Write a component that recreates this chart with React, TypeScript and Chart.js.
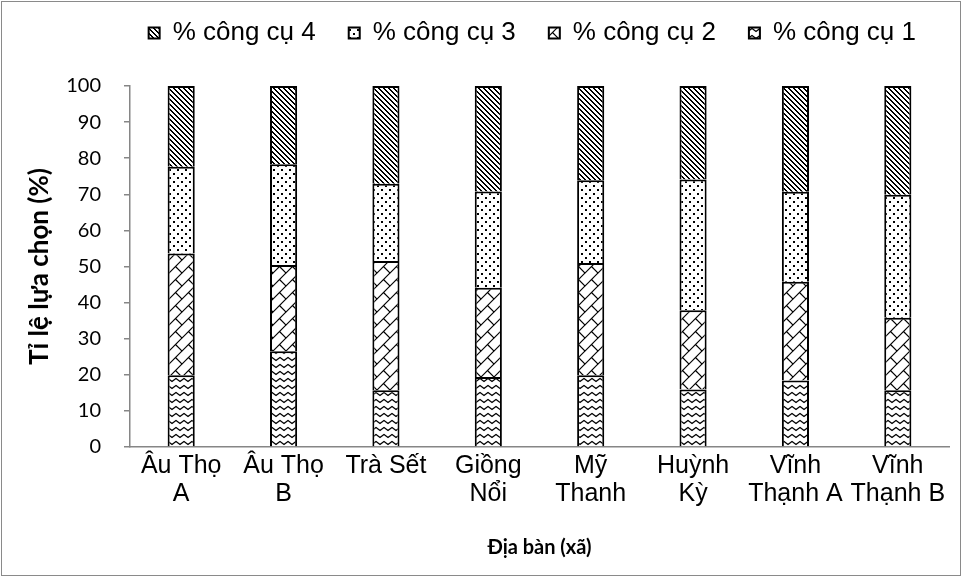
import React, { useEffect, useRef } from 'react';
import { Chart, registerables } from 'chart.js';

Chart.register(...registerables);

const categories: string[][] = [
  ['Âu Thọ', 'A'],
  ['Âu Thọ', 'B'],
  ['Trà Sết'],
  ['Giồng', 'Nổi'],
  ['Mỹ', 'Thanh'],
  ['Huỳnh', 'Kỳ'],
  ['Vĩnh', 'Thạnh A'],
  ['Vĩnh', 'Thạnh B'],
];

const tool1 = [19.9, 26.5, 15.7, 19.4, 19.9, 15.9, 18.4, 15.7];
const tool2 = [33.7, 23.9, 35.8, 24.7, 31.1, 22.0, 27.4, 20.1];
const tool3 = [24.0, 27.9, 21.4, 26.7, 22.9, 36.2, 24.9, 34.1];
const tool4 = [22.4, 21.7, 27.1, 29.2, 26.1, 25.9, 29.3, 30.1];

const seriesLabels = ['% công cụ 1', '% công cụ 2', '% công cụ 3', '% công cụ 4'];
const yTitle = 'Tỉ lệ lựa chọn (%)';
const xTitle = 'Địa bàn (xã)';
const yMin = 0;
const yMax = 100;
const yStep = 10;

function tile(w: number, h: number, draw: (c: CanvasRenderingContext2D) => void) {
  const cv = document.createElement('canvas');
  cv.width = w;
  cv.height = h;
  const c = cv.getContext('2d') as CanvasRenderingContext2D;
  c.fillStyle = '#ffffff';
  c.fillRect(0, 0, w, h);
  c.fillStyle = '#000000';
  c.strokeStyle = '#000000';
  draw(c);
  return cv;
}

function makePatterns(ctx: CanvasRenderingContext2D) {
  // zigzag
  const zz = tile(8, 7, (c) => {
    c.lineWidth = 1.3;
    for (const dy of [-7, 0, 7]) {
      c.beginPath();
      c.moveTo(-4, dy + 3.5);
      c.lineTo(0, dy + 0.5);
      c.lineTo(4, dy + 3.5);
      c.lineTo(8, dy + 0.5);
      c.lineTo(12, dy + 3.5);
      c.stroke();
    }
  });
  // diagonal brick
  const S = 13;
  const br = tile(S, S, (c) => {
    c.lineWidth = 1.2;
    for (const ox of [-S, 0, S]) {
      for (const oy of [-S, 0, S]) {
        c.beginPath();
        c.moveTo(ox, oy + S);
        c.lineTo(ox + S, oy);
        c.stroke();
        c.beginPath();
        c.moveTo(ox + S / 2, oy + S / 2);
        c.lineTo(ox + S, oy + S);
        c.stroke();
      }
    }
  });
  // dots
  const dt = tile(8, 8, (c) => {
    c.fillRect(1, 1, 2, 2);
    c.fillRect(5, 5, 2, 2);
  });
  // dark downward diagonal
  const dd = tile(10, 10, (c) => {
    for (let y = 0; y < 10; y++) {
      for (let x = 0; x < 10; x++) {
        const m = (((x - y) % 5) + 5) % 5;
        if (m < 2) c.fillRect(x, y, 1, 1);
      }
    }
  });
  return [
    ctx.createPattern(zz, 'repeat'),
    ctx.createPattern(br, 'repeat'),
    ctx.createPattern(dt, 'repeat'),
    ctx.createPattern(dd, 'repeat'),
  ];
}

const frame = {
  id: 'frame',
  beforeDraw(chart: any) {
    const c = chart.ctx;
    c.save();
    c.fillStyle = '#ffffff';
    c.fillRect(0, 0, chart.width, chart.height);
    c.strokeStyle = '#8a8a8a';
    c.lineWidth = 1;
    c.strokeRect(1.5, 1.5, chart.width - 4, chart.height - 4);
    c.restore();
  },
};

export default function App() {
  const ref = useRef<HTMLCanvasElement | null>(null);
  useEffect(() => {
    document.body.style.margin = '0';
    const canvas = ref.current as HTMLCanvasElement;
    const ctx = canvas.getContext('2d') as CanvasRenderingContext2D;
    const pats = makePatterns(ctx);
    const values = [tool1, tool2, tool3, tool4];
    const chart = new Chart(ctx, {
      type: 'bar',
      data: {
        labels: categories,
        datasets: values.map((v, i) => ({
          label: seriesLabels[i],
          data: v,
          backgroundColor: pats[i] as any,
          borderColor: '#000000',
          borderWidth: 2,
          barPercentage: 0.265,
          categoryPercentage: 1,
        })),
      },
      options: {
        responsive: false,
        animation: false,
        layout: { padding: { top: -13, right: 14, left: 0, bottom: 0 } },
        plugins: {
          legend: {
            position: 'top',
            align: 'end',
            reverse: true,
            labels: {
              boxWidth: 11,
              boxHeight: 11,
              padding: 33,
              color: '#000',
              font: { family: "'Liberation Sans', Arial, sans-serif", size: 26 },
            },
          },
          subtitle: {
            display: true,
            text: '',
            weight: 500,
            font: { size: 10, lineHeight: 1 },
            padding: { top: 10, bottom: 10 },
          } as any,
          tooltip: { enabled: false },
        },
        scales: {
          x: {
            stacked: true,
            grid: { display: false, drawTicks: false },
            border: { display: true, color: '#868686', width: 1.5 },
            ticks: {
              color: '#000',
              padding: 5,
              autoSkip: false,
              maxRotation: 0,
              font: { family: "'Liberation Sans', Arial, sans-serif", size: 25, lineHeight: 1.12 },
            },
            title: {
              display: true,
              text: xTitle,
              color: '#000',
              font: { family: 'Lato, sans-serif', size: 20, weight: 'bold', lineHeight: 1.2 },
              padding: { top: 0, bottom: 18 },
            },
            afterFit(scale: any) {
              scale.height = 131;
            },
          },
          y: {
            stacked: true,
            min: yMin,
            max: yMax,
            grid: { display: true, drawOnChartArea: false, drawTicks: true, tickLength: 6, color: '#868686', lineWidth: 1.5 },
            border: { display: true, color: '#868686', width: 1.5 },
            ticks: {
              stepSize: yStep,
              color: '#000',
              padding: 23,
              font: { family: 'Lato, sans-serif', size: 20 },
            },
            title: {
              display: true,
              text: yTitle,
              color: '#000',
              font: { family: 'Lato, sans-serif', size: 26, weight: 'bold', lineHeight: 1.2 },
              padding: { top: 24, bottom: 0 },
            },
            afterFit(scale: any) {
              scale.width = 130;
            },
          },
        },
      },
      plugins: [frame],
    });
    return () => chart.destroy();
  }, []);
  return <canvas ref={ref} width={963} height={578} style={{ display: 'block' }} />;
}
